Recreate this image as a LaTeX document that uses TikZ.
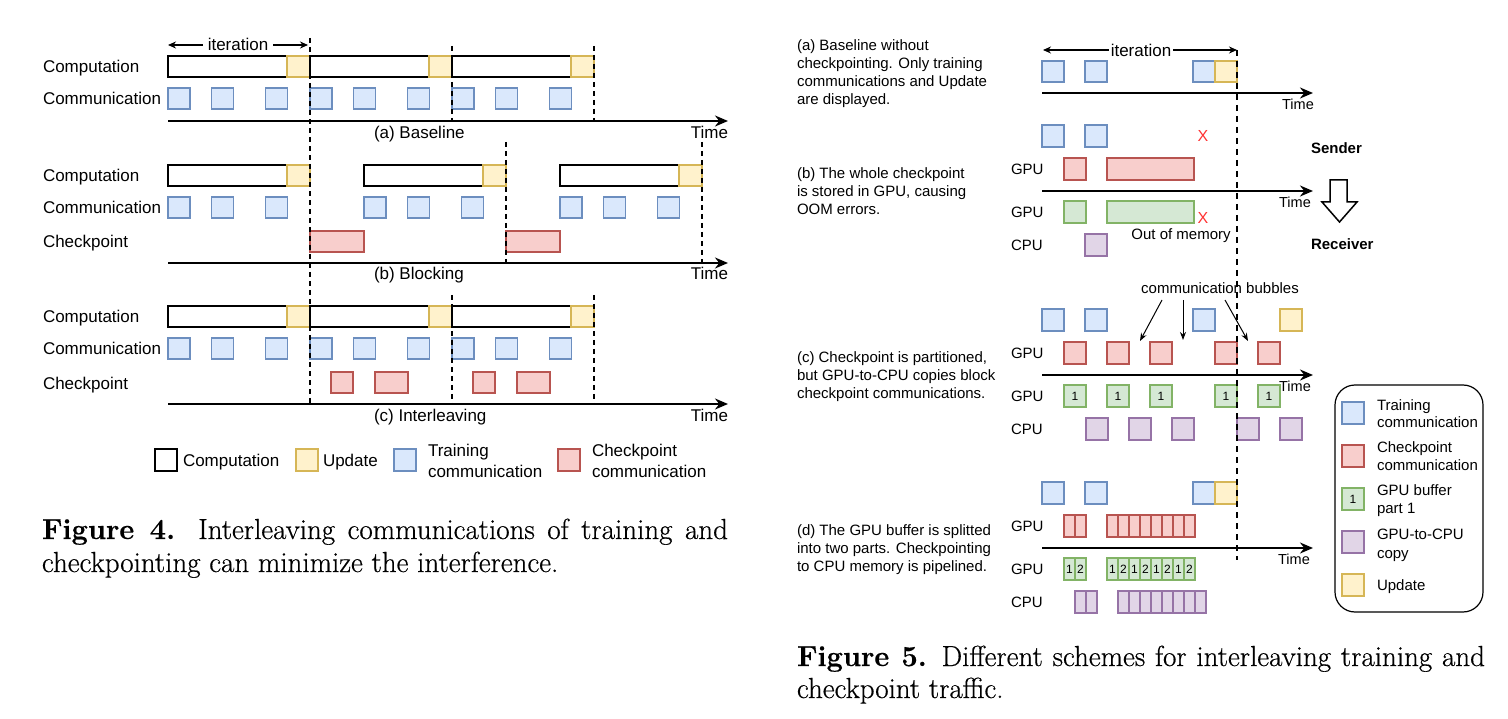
\documentclass[tikz,border=0pt]{standalone}
\usepackage{fontspec}
\newfontfamily\sans{Liberation Sans}
\newfontfamily\capfont{Latin Modern Roman}[FakeBold=0.5]
\usetikzlibrary{arrows.meta}
\definecolor{bfill}{HTML}{DAE8FC}\definecolor{bdraw}{HTML}{6C8EBF}
\definecolor{yfill}{HTML}{FFF2CC}\definecolor{ydraw}{HTML}{D6B656}
\definecolor{rfill}{HTML}{F8CECC}\definecolor{rdraw}{HTML}{B85450}
\definecolor{gfill}{HTML}{D5E8D4}\definecolor{gdraw}{HTML}{82B366}
\definecolor{pfill}{HTML}{E1D5E7}\definecolor{pdraw}{HTML}{9673A6}
\definecolor{xred}{HTML}{FF3333}
\newcommand\fsA{\sans\fontsize{17}{20}\selectfont}
\newcommand\fsB{\sans\fontsize{15}{18}\selectfont}
\newcommand\fsBb{\sans\bfseries\fontsize{15}{18}\selectfont}
\newcommand\fsT{\sans\fontsize{14.5}{17}\selectfont}
\newcommand\fsN{\sans\fontsize{12}{14}\selectfont}
\newcommand\fsX{\sans\fontsize{16}{20}\selectfont}
\newcommand\fsC{\capfont\fontsize{29}{33}\selectfont}
\tikzset{
  every node/.style={inner sep=0pt, outer sep=0pt},
  bx/.style={line width=1.3pt},
  tbox/.style={bx, fill=bfill, draw=bdraw},
  ubox/.style={bx, fill=yfill, draw=ydraw},
  cbox/.style={bx, fill=rfill, draw=rdraw},
  gbox/.style={bx, fill=gfill, draw=gdraw},
  pbox/.style={bx, fill=pfill, draw=pdraw},
  wbox/.style={line width=1.5pt, fill=white, draw=black},
  axis/.style={line width=2pt, -{Stealth[length=13pt,width=11pt]}},
  dline/.style={line width=1.5pt, dash pattern=on 5pt off 4pt},
  dlineB/.style={line width=2pt, dash pattern=on 6pt off 5pt},
  iarr/.style={line width=1.2pt, -{Stealth[length=8pt,width=7pt]}},
  barr/.style={line width=1pt, -{Stealth[length=8pt,width=6pt]}},
  lbl/.style={font=\fsA, anchor=base west},
  lblB/.style={font=\fsB, anchor=west},
  desc/.style={font=\fsB, anchor=base west},
  tm/.style={font=\fsT, anchor=center},
  num/.style={font=\fsN, anchor=center},
}
\begin{document}
\begin{tikzpicture}[x=1pt,y=-1pt]
\useasboundingbox (0,0) rectangle (1508,719);
\fill[white] (0,0) rectangle (1508,719);

% ================= Figure 4 =================
\node[lbl] (acomp) at (43,73) {Computation};
\node[lbl] (acomm) at (43,105) {Communication};
\node[lbl] (bcomp) at (43,182) {Computation};
\node[lbl] (bcomm) at (43,214) {Communication};
\node[lbl] (bckpt) at (43,248) {Checkpoint};
\node[lbl] (ccomp) at (43,323) {Computation};
\node[lbl] (ccomm) at (43,355) {Communication};
\node[lbl] (cckpt) at (43,389) {Checkpoint};

\node[font=\fsA, anchor=base, inner xsep=5pt] (iterA) at (238,51) {iteration};
\coordinate (iAl) at (168,45); \coordinate (iAr) at (308,45);
\draw[iarr] (iterA.west |- iAl) -- (iAl);
\draw[iarr] (iterA.east |- iAr) -- (iAr);

% (a)
\foreach \o in {168,310,452}{
  \draw[wbox] (\o,56) rectangle ++(119,21);
  \draw[ubox] (\o+119,56) rectangle ++(23,21);
  \foreach \d in {0,43.5,97.5} \draw[tbox] (\o+\d,88) rectangle ++(22,21);
}
% (b)
\foreach \o in {168,364,560}{
  \draw[wbox] (\o,165) rectangle ++(119,21);
  \draw[ubox] (\o+119,165) rectangle ++(23,21);
  \foreach \d in {0,43.5,97.5} \draw[tbox] (\o+\d,197) rectangle ++(22,21);
}
\foreach \o in {168,364} \draw[cbox] (\o+142,231) rectangle ++(54,21);
% (c)
\foreach \o in {168,310,452}{
  \draw[wbox] (\o,306) rectangle ++(119,21);
  \draw[ubox] (\o+119,306) rectangle ++(23,21);
  \foreach \d in {0,43.5,97.5} \draw[tbox] (\o+\d,338) rectangle ++(22,21);
}
\foreach \o in {310,452}{
  \draw[cbox] (\o+21,372) rectangle ++(22,21);
  \draw[cbox] (\o+65,372) rectangle ++(33,21);
}

\draw[dline] (310,38) -- (310,405);
\draw[dline] (452,46) -- (452,121);
\draw[dline] (594,46) -- (594,121);
\draw[dline] (506,142) -- (506,263);
\draw[dline] (702,142) -- (702,263);
\draw[dline] (452,295) -- (452,405);
\draw[dline] (594,295) -- (594,405);

\coordinate (axA0) at (168,121); \coordinate (axA1) at (728,121);
\coordinate (axB0) at (168,263); \coordinate (axB1) at (728,263);
\coordinate (axC0) at (168,404); \coordinate (axC1) at (728,404);
\draw[axis] (axA0) -- (axA1);
\draw[axis] (axB0) -- (axB1);
\draw[axis] (axC0) -- (axC1);
\node[lbl] (capA) at (374,139) {(a) Baseline};
\node[lbl] (capB) at (374,280) {(b) Blocking};
\node[lbl] (capC) at (374,421) {(c) Interleaving};
\node[font=\fsA, anchor=base east] (timeA) at (728,139) {Time};
\node[font=\fsA, anchor=base east] (timeB) at (728,280) {Time};
\node[font=\fsA, anchor=base east] (timeC) at (728,421) {Time};

\draw[wbox] (155,449) rectangle (177,471);
\node[lbl] (lg1) at (183,466) {Computation};
\draw[ubox] (296,449) rectangle (318,471);
\node[lbl] (lg2) at (323,466) {Update};
\draw[tbox] (394,449) rectangle (416,471);
\node[lbl] (lg3a) at (428,456) {Training};
\node[lbl] (lg3b) at (428,477) {communication};
\draw[cbox] (558,449) rectangle (580,471);
\node[lbl] (lg4a) at (592,456) {Checkpoint};
\node[lbl] (lg4b) at (592,477) {communication};

\node[font=\fsC, anchor=base west] (cap4a) at (42,539) {\makebox[686pt][s]{\textbf{Figure 4.} Interleaving communications of training and}};
\node[font=\fsC, anchor=base west] (cap4b) at (42,572) {checkpointing can minimize the interference.};

% ================= Figure 5 =================
\node[desc] (da1) at (797,50.5) {(a) Baseline without};
\node[desc] (da2) at (797,68.5) {checkpointing. Only training};
\node[desc] (da3) at (797,86.5) {communications and Update};
\node[desc] (da4) at (797,104.5) {are displayed.};
\node[desc] (db1) at (797,178.5) {(b) The whole checkpoint};
\node[desc] (db2) at (797,196.5) {is stored in GPU, causing};
\node[desc] (db3) at (797,214.5) {OOM errors.};
\node[desc] (dc1) at (797,362.5) {(c) Checkpoint is partitioned,};
\node[desc] (dc2) at (797,380.5) {but GPU-to-CPU copies block};
\node[desc] (dc3) at (797,398.5) {checkpoint communications.};
\node[desc] (dd1) at (797,535.5) {(d) The GPU buffer is splitted};
\node[desc] (dd2) at (797,553.5) {into two parts. Checkpointing};
\node[desc] (dd3) at (797,571.5) {to CPU memory is pipelined.};

\node[lblB] (gb1) at (1011,169) {GPU};
\node[lblB] (gb2) at (1011,212) {GPU};
\node[lblB] (cb1) at (1011,245) {CPU};
\node[lblB] (gc1) at (1011,353) {GPU};
\node[lblB] (gc2) at (1011,396) {GPU};
\node[lblB] (cc1) at (1011,429) {CPU};
\node[lblB] (gd1) at (1011,526) {GPU};
\node[lblB] (gd2) at (1011,569) {GPU};
\node[lblB] (cd1) at (1011,602) {CPU};

\node[font=\fsA, anchor=center, inner xsep=2pt] (iterB) at (1141,50) {iteration};
\coordinate (iBl) at (1043,50); \coordinate (iBr) at (1237,50);
\draw[iarr] (iterB.west |- iBl) -- (iBl);
\draw[iarr] (iterB.east |- iBr) -- (iBr);

% (a)
\draw[tbox] (1042,61) rectangle (1064,82);
\draw[tbox] (1085,61) rectangle (1107,82);
\draw[tbox] (1193,61) rectangle (1215,82);
\draw[ubox] (1215,61) rectangle (1237,82);

% (b)
\draw[tbox] (1042,125) rectangle (1064,147);
\draw[tbox] (1085,125) rectangle (1107,147);
\draw[cbox] (1064,158) rectangle (1086,180);
\draw[cbox] (1107,158) rectangle (1194,180);
\draw[gbox] (1064,201) rectangle (1086,223);
\draw[gbox] (1107,201) rectangle (1194,223);
\draw[pbox] (1085,234) rectangle (1107,256);
\node[font=\fsX, text=xred] (xa) at (1203,136) {X};
\node[font=\fsX, text=xred] (xb) at (1203,218) {X};
\node[font=\fsB, anchor=center] (oom) at (1181,235.5) {Out of memory};

% (c)
\draw[tbox] (1042,309) rectangle (1064,331);
\draw[tbox] (1085,309) rectangle (1107,331);
\draw[tbox] (1193,309) rectangle (1215,331);
\draw[ubox] (1280,309) rectangle (1302,331);
\foreach \x in {1064,1107,1150,1215,1258}{
  \draw[cbox] (\x,342) rectangle ++(22,22);
  \draw[gbox] (\x,385) rectangle ++(22,22);
  \node[num] (n\x) at (\x+11,396) {1};
}
\foreach \x in {1086,1129,1172,1237,1280} \draw[pbox] (\x,418) rectangle ++(22,22);

% (d)
\draw[tbox] (1042,482) rectangle (1064,504);
\draw[tbox] (1085,482) rectangle (1107,504);
\draw[tbox] (1193,482) rectangle (1215,504);
\draw[ubox] (1215,482) rectangle (1237,504);
\foreach \x/\t in {1064/1,1075/2,1107/1,1118/2,1129/1,1140/2,1151/1,1162/2,1173/1,1184/2}{
  \draw[cbox] (\x,515) rectangle ++(11,22);
  \draw[gbox] (\x,558) rectangle ++(11,22);
  \node[num] (m\x) at (\x+5.5,569) {\t};
}
\foreach \x in {1075,1086,1118,1129,1140,1151,1162,1173,1184,1195}
  \draw[pbox] (\x,591) rectangle ++(11,22);

\draw[dlineB] (1237,50) -- (1237,560);

\coordinate (a5a0) at (1042,93);  \coordinate (a5a1) at (1313,93);
\coordinate (a5b0) at (1042,191); \coordinate (a5b1) at (1313,191);
\coordinate (a5c0) at (1042,375); \coordinate (a5c1) at (1313,375);
\coordinate (a5d0) at (1042,548); \coordinate (a5d1) at (1313,548);
\draw[axis] (a5a0) -- (a5a1);
\draw[axis] (a5b0) -- (a5b1);
\draw[axis] (a5c0) -- (a5c1);
\draw[axis] (a5d0) -- (a5d1);
\node[tm] (t5a) at (1298,104) {Time};
\node[tm] (t5b) at (1295,202) {Time};
\node[tm] (t5c) at (1295,386) {Time};
\node[tm] (t5d) at (1294,559) {Time};

\node[font=\fsBb, anchor=west] (snd) at (1311,148) {Sender};
\node[font=\fsBb, anchor=west] (rcv) at (1311,244) {Receiver};
\draw[line width=1.5pt, fill=white] (1330,180) -- (1347,180) -- (1347,202) -- (1357,202) -- (1339.5,222) -- (1322,202) -- (1330,202) -- cycle;

\node[font=\fsB, anchor=center] (bub) at (1220,288) {communication bubbles};
\coordinate (b1s) at (1162,300); \coordinate (b1e) at (1140,341);
\coordinate (b2s) at (1183,300); \coordinate (b2e) at (1183,340);
\coordinate (b3s) at (1225,300); \coordinate (b3e) at (1248,341);
\draw[barr] (b1s) -- (b1e);
\draw[barr] (b2s) -- (b2e);
\draw[barr] (b3s) -- (b3e);

\draw[line width=1.2pt, rounded corners=20pt] (1335,385) rectangle (1483,612);
\draw[tbox] (1342,402) rectangle (1364,424);
\draw[cbox] (1342,445) rectangle (1364,467);
\draw[gbox] (1342,488) rectangle (1364,510);
\node[num] (lgn) at (1353,499) {1};
\draw[pbox] (1342,531) rectangle (1364,553);
\draw[ubox] (1342,574) rectangle (1364,596);
\node[desc] (l1a) at (1377,410.5) {Training};
\node[desc] (l1b) at (1377,427.5) {communication};
\node[desc] (l2a) at (1377,452.5) {Checkpoint};
\node[desc] (l2b) at (1377,470.5) {communication};
\node[desc] (l3a) at (1377,495.5) {GPU buffer};
\node[desc] (l3b) at (1377,513.5) {part 1};
\node[desc] (l4a) at (1377,539.5) {GPU-to-CPU};
\node[desc] (l4b) at (1377,558) {copy};
\node[desc] (l5a) at (1377,590.5) {Update};

\node[font=\fsC, anchor=base west] (cap5a) at (797,666) {\makebox[688pt][s]{\textbf{Figure 5.} Different schemes for interleaving training and}};
\node[font=\fsC, anchor=base west] (cap5b) at (797,698) {checkpoint traffic.};
\end{tikzpicture}
\end{document}
